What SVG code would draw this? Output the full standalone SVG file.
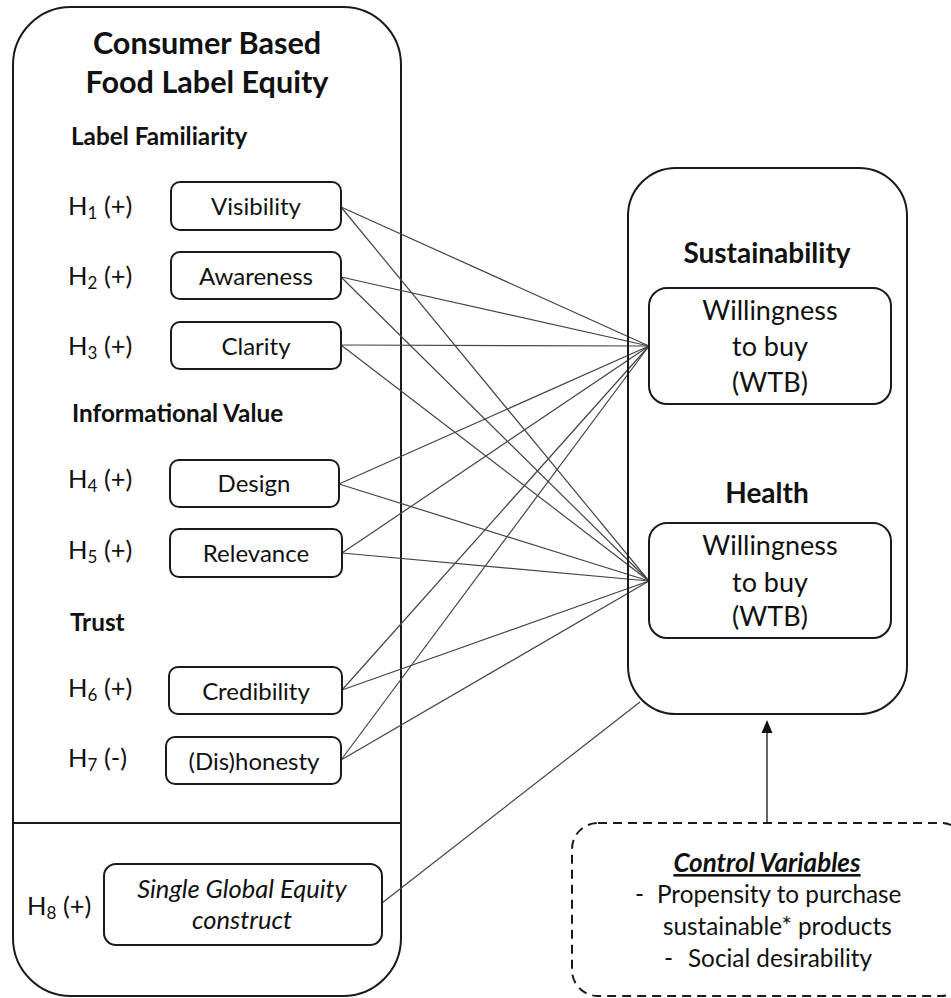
<svg xmlns="http://www.w3.org/2000/svg" width="951" height="998" viewBox="0 0 951 998">
<style>
text{font-family:Lato,"Liberation Sans",sans-serif;fill:#111}
.frame{fill:none;stroke:#1a1a1a;stroke-width:2}
.box{fill:#fff;stroke:#1a1a1a;stroke-width:2}
.t{font-size:24px;text-anchor:middle}
.h{font-size:25.5px}
.sec{font-size:24.3px;font-weight:bold}
.conn line{stroke:#444;stroke-width:1.2}
.dash{fill:none;stroke:#1a1a1a;stroke-width:2;stroke-dasharray:9 6}
.w{font-size:27px;text-anchor:middle}
.cv{font-size:24.3px}
</style>
<rect width="951" height="998" fill="#fff"/>

<g id="left-panel">
<rect class="frame" x="13" y="7" width="388" height="989" rx="58" ry="58"/>
<line class="frame" x1="13" y1="823" x2="401" y2="823"/>
<text x="207" y="54" style="font-size:30.6px;font-weight:bold;text-anchor:middle">Consumer Based</text>
<text x="207" y="93" style="font-size:30.6px;font-weight:bold;text-anchor:middle">Food Label Equity</text>
<text class="sec" x="71" y="145">Label Familiarity</text>
<text class="sec" x="72" y="422">Informational Value</text>
<text class="sec" x="70" y="631">Trust</text>
</g>

<g id="connectors" class="conn">
<line x1="341" y1="207" x2="649" y2="346"/>
<line x1="341" y1="207" x2="649" y2="581"/>
<line x1="341" y1="277" x2="649" y2="346"/>
<line x1="341" y1="277" x2="649" y2="581"/>
<line x1="341" y1="345" x2="649" y2="346"/>
<line x1="341" y1="345" x2="649" y2="581"/>
<line x1="339" y1="484" x2="649" y2="346"/>
<line x1="339" y1="484" x2="649" y2="581"/>
<line x1="342" y1="553" x2="649" y2="346"/>
<line x1="342" y1="553" x2="649" y2="581"/>
<line x1="342" y1="690" x2="649" y2="346"/>
<line x1="342" y1="690" x2="649" y2="581"/>
<line x1="341" y1="760" x2="649" y2="346"/>
<line x1="341" y1="760" x2="649" y2="581"/>
<line x1="382" y1="903" x2="640" y2="702"/>
<line x1="767" y1="823" x2="767" y2="732" style="stroke:#333;stroke-width:1.5"/>
<path d="M767,720 L761.5,733 L772.5,733 z" fill="#111"/>
</g>

<g id="h1">
<text class="h" x="68" y="215">H<tspan font-size="17" dy="4">1</tspan><tspan dy="-4"> (+)</tspan></text>
<rect class="box" x="171" y="182" width="170" height="48" rx="9"/>
<text class="t" x="256" y="215">Visibility</text>
</g>
<g id="h2">
<text class="h" x="68" y="285">H<tspan font-size="17" dy="4">2</tspan><tspan dy="-4"> (+)</tspan></text>
<rect class="box" x="171" y="252" width="170" height="47" rx="9"/>
<text class="t" x="256" y="285">Awareness</text>
</g>
<g id="h3">
<text class="h" x="68" y="355">H<tspan font-size="17" dy="4">3</tspan><tspan dy="-4"> (+)</tspan></text>
<rect class="box" x="171" y="322" width="170" height="47" rx="9"/>
<text class="t" x="256" y="355">Clarity</text>
</g>
<g id="h4">
<text class="h" x="68" y="488">H<tspan font-size="17" dy="4">4</tspan><tspan dy="-4"> (+)</tspan></text>
<rect class="box" x="170" y="460" width="169" height="47" rx="9"/>
<text class="t" x="254" y="492">Design</text>
</g>
<g id="h5">
<text class="h" x="68" y="559">H<tspan font-size="17" dy="4">5</tspan><tspan dy="-4"> (+)</tspan></text>
<rect class="box" x="170" y="529" width="172" height="48" rx="9"/>
<text class="t" x="256" y="562">Relevance</text>
</g>
<g id="h6">
<text class="h" x="68" y="697">H<tspan font-size="17" dy="4">6</tspan><tspan dy="-4"> (+)</tspan></text>
<rect class="box" x="169" y="667" width="173" height="47" rx="9"/>
<text class="t" x="256" y="700">Credibility</text>
</g>
<g id="h7">
<text class="h" x="68" y="767">H<tspan font-size="17" dy="4">7</tspan><tspan dy="-4"> (-)</tspan></text>
<rect class="box" x="166" y="737" width="175" height="47" rx="9"/>
<text class="t" x="254" y="770">(Dis)honesty</text>
</g>
<g id="h8">
<text class="h" x="27" y="915">H<tspan font-size="17" dy="4">8</tspan><tspan dy="-4"> (+)</tspan></text>
<rect class="box" x="104" y="864" width="278" height="81" rx="12"/>
<text class="t" x="242" y="898" style="font-size:25.5px;font-style:italic">Single Global Equity</text>
<text class="t" x="242" y="929" style="font-size:25.5px;font-style:italic">construct</text>
</g>

<g id="outcomes">
<rect class="frame" x="628" y="168" width="279" height="546" rx="48" ry="48"/>
<text x="767" y="263" style="font-size:28px;font-weight:bold;text-anchor:middle">Sustainability</text>
<text x="767" y="503" style="font-size:28px;font-weight:bold;text-anchor:middle">Health</text>
</g>
<g id="wtb-sustainability">
<rect class="box" x="649" y="288" width="242" height="116" rx="18"/>
<text class="w" x="770" y="320">Willingness</text>
<text class="w" x="770" y="356">to buy</text>
<text class="w" x="770" y="392">(WTB)</text>
</g>
<g id="wtb-health">
<rect class="box" x="649" y="523" width="242" height="115" rx="18"/>
<text class="w" x="770" y="555">Willingness</text>
<text class="w" x="770" y="592">to buy</text>
<text class="w" x="770" y="626">(WTB)</text>
</g>

<g id="control-variables">
<rect class="dash" x="572" y="823" width="395" height="173" rx="26"/>
<text x="767" y="872" style="font-size:26px;font-weight:bold;font-style:italic;text-anchor:middle;text-decoration:underline">Control Variables</text>
<text class="cv" x="635" y="903">-</text>
<text class="cv" x="657" y="903">Propensity to purchase</text>
<text class="cv" x="663" y="935">sustainable* products</text>
<text class="cv" x="664" y="967">-</text>
<text class="cv" x="688" y="967">Social desirability</text>
</g>
</svg>
